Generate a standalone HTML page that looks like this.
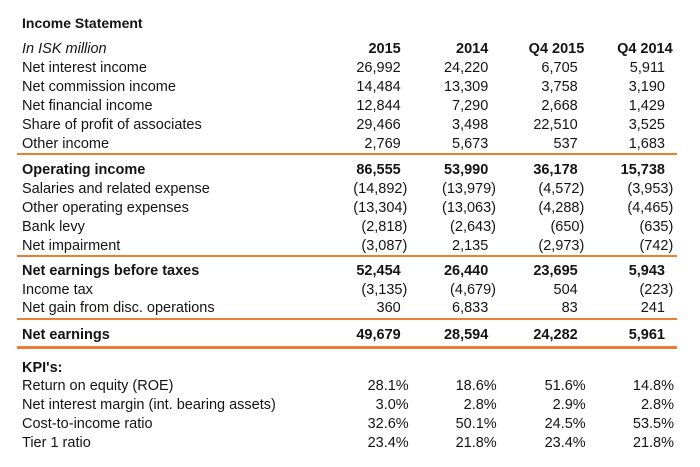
<!DOCTYPE html>
<html><head><meta charset="utf-8">
<style>
html,body{margin:0;padding:0;background:#fff;}
#c{position:relative;width:700px;height:467px;overflow:hidden;background:#fff;font-family:"Liberation Sans",Arial,sans-serif;color:#141414;}
#c div{position:absolute;white-space:nowrap;font-size:14.5px;line-height:19px;}
.l{left:22px;}
.b{font-weight:bold;}
.i{font-style:italic;}
.r{text-align:right;}
.hr{position:absolute;left:17px;width:660px;background:#ED7D31;height:2px;}
</style></head><body>
<div id="c">
<div class="l b" style="top:13.6px;font-size:14px">Income Statement</div>

<div class="l i" style="top:40.2px">In ISK million</div>
<div class="b" style="top:40.2px;right:299.3px">2015</div>
<div class="b" style="top:40.2px;right:211.7px">2014</div>
<div class="b" style="top:40.2px;right:115.7px">Q4 2015</div>
<div class="b" style="top:40.2px;right:27.3px">Q4 2014</div>

<div class="l" style="top:58.8px">Net interest income</div>
<div style="top:58.8px;right:299.3px">26,992</div>
<div style="top:58.8px;right:211.7px">24,220</div>
<div style="top:58.8px;right:122.3px">6,705</div>
<div style="top:58.8px;right:35px">5,911</div>

<div class="l" style="top:77.8px">Net commission income</div>
<div style="top:77.8px;right:299.3px">14,484</div>
<div style="top:77.8px;right:211.7px">13,309</div>
<div style="top:77.8px;right:122.3px">3,758</div>
<div style="top:77.8px;right:35px">3,190</div>

<div class="l" style="top:96.8px">Net financial income</div>
<div style="top:96.8px;right:299.3px">12,844</div>
<div style="top:96.8px;right:211.7px">7,290</div>
<div style="top:96.8px;right:122.3px">2,668</div>
<div style="top:96.8px;right:35px">1,429</div>

<div class="l" style="top:115.8px">Share of profit of associates</div>
<div style="top:115.8px;right:299.3px">29,466</div>
<div style="top:115.8px;right:211.7px">3,498</div>
<div style="top:115.8px;right:122.3px">22,510</div>
<div style="top:115.8px;right:35px">3,525</div>

<div class="l" style="top:134.8px">Other income</div>
<div style="top:134.8px;right:299.3px">2,769</div>
<div style="top:134.8px;right:211.7px">5,673</div>
<div style="top:134.8px;right:122.3px">537</div>
<div style="top:134.8px;right:35px">1,683</div>

<span class="hr" style="top:153px"></span>

<div class="l b" style="top:160.5px">Operating income</div>
<div class="b" style="top:160.5px;right:299.3px">86,555</div>
<div class="b" style="top:160.5px;right:211.7px">53,990</div>
<div class="b" style="top:160.5px;right:122.3px">36,178</div>
<div class="b" style="top:160.5px;right:35px">15,738</div>

<div class="l" style="top:179.5px">Salaries and related expense</div>
<div style="top:179.5px;right:292.7px">(14,892)</div>
<div style="top:179.5px;right:204px">(13,979)</div>
<div style="top:179.5px;right:115.7px">(4,572)</div>
<div style="top:179.5px;right:26.7px">(3,953)</div>

<div class="l" style="top:198.5px">Other operating expenses</div>
<div style="top:198.5px;right:292.7px">(13,304)</div>
<div style="top:198.5px;right:204px">(13,063)</div>
<div style="top:198.5px;right:115.7px">(4,288)</div>
<div style="top:198.5px;right:26.7px">(4,465)</div>

<div class="l" style="top:217.5px">Bank levy</div>
<div style="top:217.5px;right:292.7px">(2,818)</div>
<div style="top:217.5px;right:204px">(2,643)</div>
<div style="top:217.5px;right:115.7px">(650)</div>
<div style="top:217.5px;right:26.7px">(635)</div>

<div class="l" style="top:236.8px">Net impairment</div>
<div style="top:236.8px;right:292.7px">(3,087)</div>
<div style="top:236.8px;right:211.7px">2,135</div>
<div style="top:236.8px;right:115.7px">(2,973)</div>
<div style="top:236.8px;right:26.7px">(742)</div>

<span class="hr" style="top:255px"></span>

<div class="l b" style="top:262.2px">Net earnings before taxes</div>
<div class="b" style="top:262.2px;right:299.3px">52,454</div>
<div class="b" style="top:262.2px;right:211.7px">26,440</div>
<div class="b" style="top:262.2px;right:122.3px">23,695</div>
<div class="b" style="top:262.2px;right:35px">5,943</div>

<div class="l" style="top:280.8px">Income tax</div>
<div style="top:280.8px;right:292.7px">(3,135)</div>
<div style="top:280.8px;right:204px">(4,679)</div>
<div style="top:280.8px;right:122.3px">504</div>
<div style="top:280.8px;right:26.7px">(223)</div>

<div class="l" style="top:299.2px">Net gain from disc. operations</div>
<div style="top:299.2px;right:299.3px">360</div>
<div style="top:299.2px;right:211.7px">6,833</div>
<div style="top:299.2px;right:122.3px">83</div>
<div style="top:299.2px;right:35px">241</div>

<span class="hr" style="top:318px"></span>

<div class="l b" style="top:325.5px">Net earnings</div>
<div class="b" style="top:325.5px;right:299.3px">49,679</div>
<div class="b" style="top:325.5px;right:211.7px">28,594</div>
<div class="b" style="top:325.5px;right:122.3px">24,282</div>
<div class="b" style="top:325.5px;right:35px">5,961</div>

<span class="hr" style="top:345.5px;height:3px"></span>

<div class="l b" style="top:358.5px">KPI's:</div>

<div class="l" style="top:377.2px">Return on equity (ROE)</div>
<div style="top:377.2px;right:291.3px">28.1%</div>
<div style="top:377.2px;right:203.3px">18.6%</div>
<div style="top:377.2px;right:114.3px">51.6%</div>
<div style="top:377.2px;right:26px">14.8%</div>

<div class="l" style="top:396.2px">Net interest margin (int. bearing assets)</div>
<div style="top:396.2px;right:291.3px">3.0%</div>
<div style="top:396.2px;right:203.3px">2.8%</div>
<div style="top:396.2px;right:114.3px">2.9%</div>
<div style="top:396.2px;right:26px">2.8%</div>

<div class="l" style="top:415.2px">Cost-to-income ratio</div>
<div style="top:415.2px;right:291.3px">32.6%</div>
<div style="top:415.2px;right:203.3px">50.1%</div>
<div style="top:415.2px;right:114.3px">24.5%</div>
<div style="top:415.2px;right:26px">53.5%</div>

<div class="l" style="top:433.8px">Tier 1 ratio</div>
<div style="top:433.8px;right:291.3px">23.4%</div>
<div style="top:433.8px;right:203.3px">21.8%</div>
<div style="top:433.8px;right:114.3px">23.4%</div>
<div style="top:433.8px;right:26px">21.8%</div>
</div>
</body></html>
